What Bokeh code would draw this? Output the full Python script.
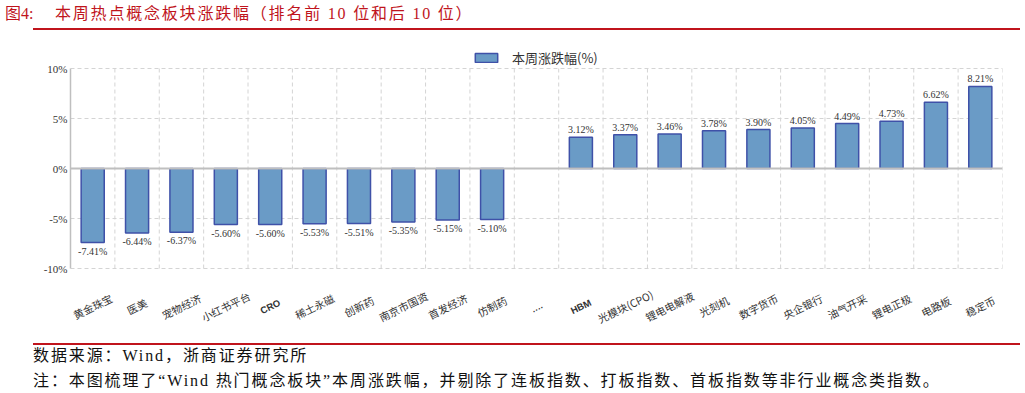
from bokeh.plotting import figure
from bokeh.models import (ColumnDataSource, FactorRange, Range1d, FixedTicker,
                          PrintfTickFormatter, Span, LabelSet, Legend, LegendItem, Div)
from bokeh.layouts import column
from bokeh.embed import file_html
from bokeh.resources import INLINE
from bokeh.core.properties import value

# ---------------- data ----------------
categories = ["黄金珠宝", "医美", "宠物经济", "小红书平台", "CRO", "稀土永磁", "创新药",
              "南京市国资", "首发经济", "仿制药", "....", "HBM", "光模块(CPO)", "锂电电解液",
              "光刻机", "数字货币", "央企银行", "油气开采", "锂电正极", "电路板", "稳定币"]
changes = [-7.41, -6.44, -6.37, -5.60, -5.60, -5.53, -5.51, -5.35, -5.15, -5.10,
           float("nan"),
           3.12, 3.37, 3.46, 3.78, 3.90, 4.05, 4.49, 4.73, 6.62, 8.21]
y_ticks = [-10, -5, 0, 5, 10]
legend_label = "本周涨跌幅(%)"
fig_no = "图4:"
title_text = "本周热点概念板块涨跌幅（排名前 10 位和后 10 位）"
source_note = "数据来源：Wind，浙商证券研究所"
footnote = "注：本图梳理了“Wind 热门概念板块”本周涨跌幅，并剔除了连板指数、打板指数、首板指数等非行业概念类指数。"

RED = "#c0141c"
BAR_FILL = "#6a9bc6"
BAR_LINE = "#3f51a8"
GRID = "#d4d4d4"
SERIF = "Liberation Serif"
CJK = "Noto Sans CJK SC"

y_lo, y_hi = min(y_ticks), max(y_ticks)

# ---------------- sources ----------------
src = ColumnDataSource(dict(cat=categories, val=changes))
pos = [(c, v) for c, v in zip(categories, changes) if v == v and v >= 0]
neg = [(c, v) for c, v in zip(categories, changes) if v == v and v < 0]
pos_src = ColumnDataSource(dict(cat=[c for c, _ in pos], val=[v for _, v in pos],
                                lbl=[f"{v:.2f}%" for _, v in pos]))
neg_src = ColumnDataSource(dict(cat=[c for c, _ in neg], val=[v for _, v in neg],
                                lbl=[f"{v:.2f}%" for _, v in neg]))
is_ascii = [all(ord(ch) < 128 for ch in c) and c.isalpha() for c in categories]
cat_src = ColumnDataSource(dict(
    cat=categories,
    font=["Liberation Sans" if a else CJK for a in is_ascii],
    style=["bold" if a else "normal" for a in is_ascii],
    size=["9.5px" if a else "10.5px" for a in is_ascii],
))
n = len(categories)
bound_src = ColumnDataSource(dict(x=list(range(1, n + 1)),
                                  y0=[y_lo] * n, y1=[y_hi] * n))

# ---------------- figure ----------------
# frame covers the whole figure height so that legend and category labels sit inside it
p = figure(x_range=FactorRange(factors=categories), y_range=Range1d(-17.5, 13.8),
           width=1025, height=313, output_backend="svg", toolbar_location=None,
           min_border_left=70, min_border_right=23, min_border_top=0,
           min_border_bottom=0, outline_line_color=None)

# vertical dashed separators between categories
p.segment(x0="x", y0="y0", x1="x", y1="y1", source=bound_src,
          line_color=GRID, line_dash="4 3", line_width=1)

bars = p.vbar(x="cat", top="val", bottom=0, width=0.52, source=src,
              fill_color=BAR_FILL, line_color=BAR_LINE, line_width=1.5)

p.text(x="cat", y="val", text="lbl", source=pos_src, text_align="center",
       text_baseline="bottom", y_offset=-2, text_font=value(SERIF),
       text_font_size="10px", text_color="#333333")
p.text(x="cat", y="val", text="lbl", source=neg_src, text_align="center",
       text_baseline="top", y_offset=3, text_font=value(SERIF),
       text_font_size="10px", text_color="#333333")

p.add_layout(Span(location=0, dimension="width", line_color="#bfbfbf", line_width=2))

# y axis
p.yaxis.bounds = (y_lo, y_hi)
p.yaxis.ticker = FixedTicker(ticks=y_ticks)
p.yaxis.formatter = PrintfTickFormatter(format="%d%%")
p.yaxis.axis_line_color = "#bfbfbf"
p.yaxis.axis_line_width = 1.5
p.yaxis.major_tick_line_color = None
p.yaxis.minor_tick_line_color = None
p.yaxis.major_tick_out = 0
p.yaxis.major_tick_in = 0
p.yaxis.major_label_standoff = 3
p.yaxis.major_label_text_font = SERIF
p.yaxis.major_label_text_font_size = "11px"
p.yaxis.major_label_text_color = "#333333"

# x axis: category labels drawn as rotated centred labels
p.xaxis.visible = False
cat_labels = LabelSet(x="cat", y=-13.8, text="cat", source=cat_src,
                      angle=0.45, text_align="center", text_baseline="middle",
                      text_font="font", text_font_style="style", text_font_size="size",
                      text_color="#333333")
p.add_layout(cat_labels)

# horizontal grid
p.ygrid.ticker = FixedTicker(ticks=[t for t in y_ticks if t != 0])
p.ygrid.grid_line_color = GRID
p.ygrid.grid_line_dash = "4 3"
p.xgrid.visible = False

legend = Legend(items=[LegendItem(label=legend_label, renderers=[bars])],
                location=(402, 276), orientation="horizontal", padding=0, margin=0,
                border_line_color=None, background_fill_alpha=0,
                glyph_width=28, glyph_height=11, label_standoff=12, label_height=14,
                label_text_font=CJK, label_text_font_size="13px",
                label_text_color="#333333")
p.add_layout(legend)

# ---------------- title & footer ----------------
font_stack = "'Liberation Serif','Noto Sans CJK SC',serif"
title_html = f"""
<div style="position:relative;width:1025px;height:30px;">
  <span style="position:absolute;left:5px;top:4px;line-height:20px;color:{RED};font-family:{font_stack};font-size:16px;white-space:nowrap;">{fig_no}</span>
  <span style="position:absolute;left:55px;top:4px;line-height:20px;color:{RED};font-family:{font_stack};font-size:16px;letter-spacing:1.8px;white-space:nowrap;">{title_text}</span>
  <div style="position:absolute;left:33px;top:28px;width:987px;height:2px;background:{RED};"></div>
</div>"""
footer_html = f"""
<div style="position:relative;width:1025px;height:50px;">
  <div style="position:absolute;left:33px;top:0px;width:987px;height:2px;background:{RED};"></div>
  <span style="position:absolute;left:33px;top:3px;line-height:20px;color:#111;font-family:{font_stack};font-size:16px;letter-spacing:1.9px;white-space:nowrap;">{source_note}</span>
  <span style="position:absolute;left:33px;top:28px;line-height:20px;color:#111;font-family:{font_stack};font-size:16px;letter-spacing:1.9px;white-space:nowrap;">{footnote}</span>
</div>"""
title_div = Div(text=title_html, width=1025, height=30, margin=(0, 0, 0, 0))
footer_div = Div(text=footer_html, width=1025, height=50, margin=(0, 0, 0, 0))

layout = column(title_div, p, footer_div, spacing=0, margin=(0, 0, 0, 0))
open("out.html", "w").write(file_html(layout, INLINE))
